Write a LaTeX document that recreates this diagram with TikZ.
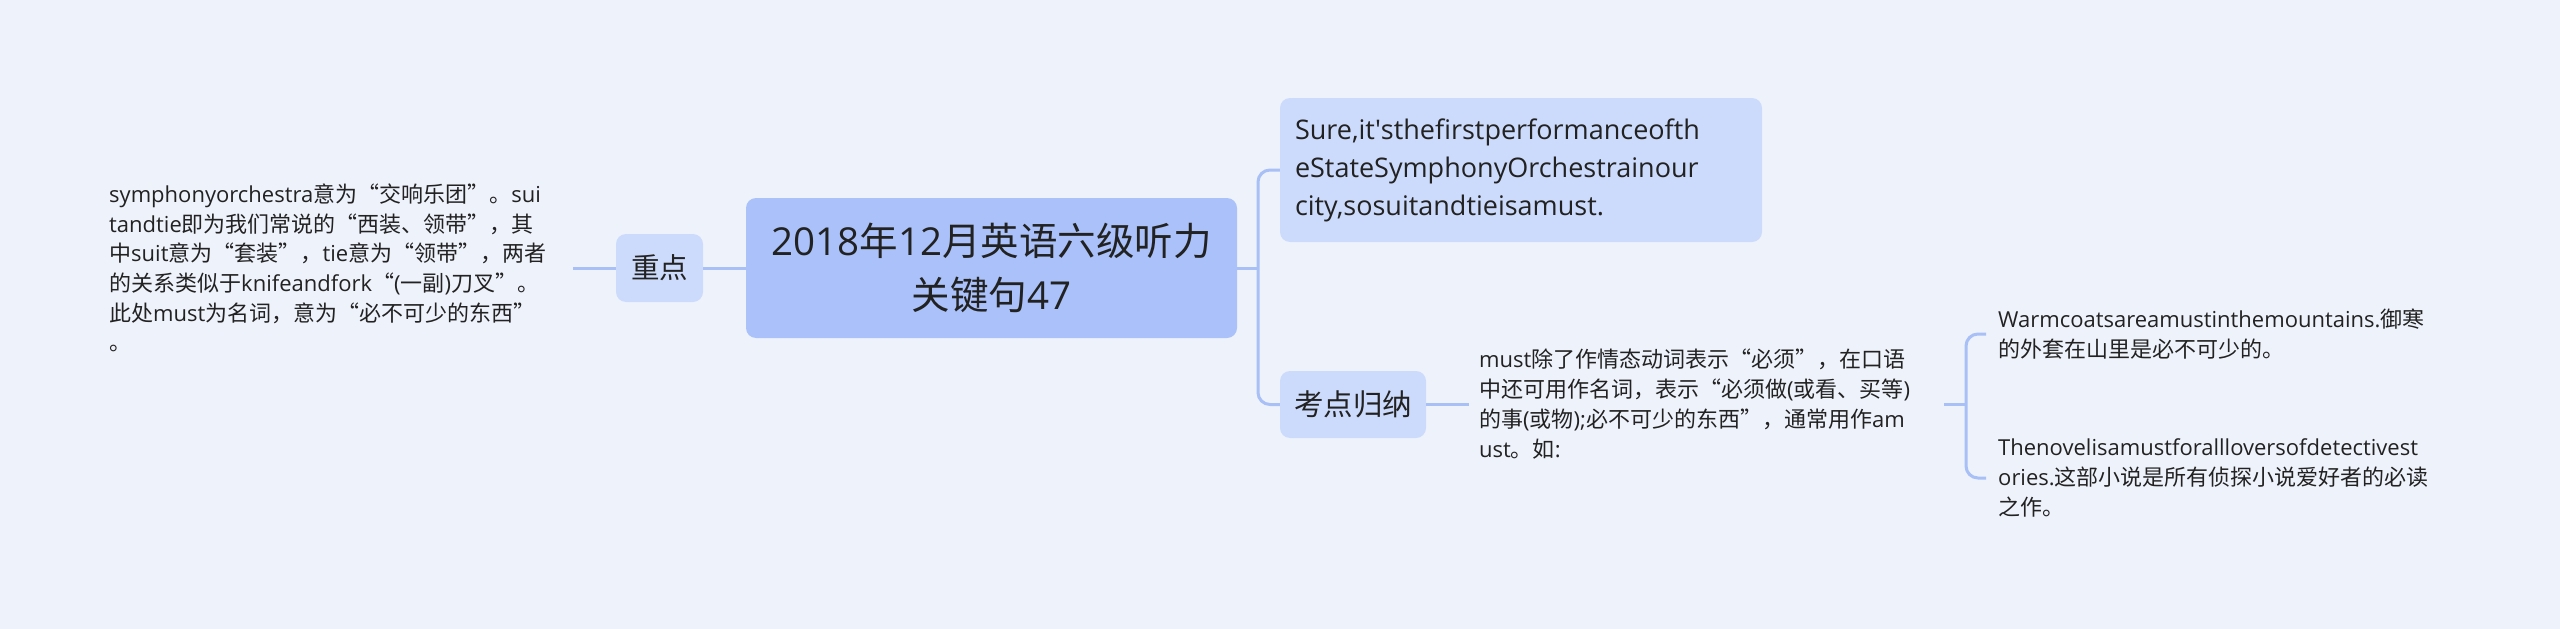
\documentclass[tikz,border=0pt]{standalone}
\usepackage{fontspec}
\setmainfont{Open Sans}
\newfontfamily\latfont{Open Sans}
\newfontfamily\cjkfont{Noto Sans CJK SC}[RawFeature=+fwid]
\XeTeXinterchartokenstate=1
\newXeTeXintercharclass\cjkcls
\newcount\mycnt
\def\setcls#1#2{\mycnt=#1\relax\loop\XeTeXcharclass\mycnt=\cjkcls\relax\ifnum\mycnt<#2\relax\advance\mycnt by 1\relax\repeat}
\setcls{"4E00}{"9FFF}
\setcls{"3000}{"303F}
\setcls{"FF00}{"FFEF}
\setcls{"201C}{"201D}
\XeTeXinterchartoks 0 \cjkcls = {\cjkfont}
\XeTeXinterchartoks 4095 \cjkcls = {\cjkfont}
\XeTeXinterchartoks \cjkcls 0 = {\latfont}
\XeTeXinterchartoks 4095 0 = {\latfont}
\newcommand\myfs[2]{\fontsize{#1pt}{#2pt}\selectfont}
\newcommand\apos{\XeTeXglyph\XeTeXcharglyph"27\relax}
\definecolor{bgc}{RGB}{238,242,251}
\definecolor{cmain}{RGB}{170,194,249}
\definecolor{clight}{RGB}{204,219,251}
\definecolor{cline}{RGB}{168,192,245}
\definecolor{txt}{RGB}{34,34,34}
\tikzset{
  topic/.style={rounded corners=10pt, inner sep=0pt, text=txt},
  plain/.style={inner ysep=0pt, align=left, text=txt},
  conn/.style={draw=cline, line width=3pt},
}
\begin{document}
\begin{tikzpicture}[x=1pt,y=-1pt]
\fill[bgc] (0,0) rectangle (2560,629);
\useasboundingbox (0,0) rectangle (2560,629);

\node[topic, fill=cmain, minimum width=491pt, minimum height=140pt, align=center, font=\myfs{38.5}{54}] (root) at (991.5,268) {2018年12月英语六级听力\\关键句47};

\node[topic, fill=clight, minimum width=87pt, minimum height=68pt, font=\myfs{28.5}{34}] (zd) at (659.5,268) {重点};

\node[plain, text width=450pt, inner xsep=14pt, anchor=west, font=\myfs{22}{29.6}] (zdt) at (95,268) {symphonyorchestra意为“交响乐团”。sui\\tandtie即为我们常说的“西装、领带”，其\\中suit意为“套装”，tie意为“领带”，两者\\的关系类似于knifeandfork“(一副)刀叉”。\\此处must为名词，意为“必不可少的东西”\\。};

\node[topic, fill=clight, minimum width=482pt, minimum height=144pt, text width=452pt, align=left, font=\myfs{27}{38}] (q) at (1521,170) {Sure,it\apos sthefirstperformanceofth\\eStateSymphonyOrchestrainour\\city,sosuitandtieisamust.};

\node[topic, fill=clight, minimum width=146pt, minimum height=67pt, font=\myfs{29.5}{34}] (kd) at (1353,404.5) {考点归纳};

\node[plain, text width=455pt, inner xsep=10pt, anchor=west, font=\myfs{22}{30}] (kdt) at (1469,404.5) {must除了作情态动词表示“必须”，在口语\\中还可用作名词，表示“必须做(或看、买等)\\的事(或物);必不可少的东西”，通常用作am\\ust。如:};

\node[plain, text width=450pt, inner xsep=12pt, anchor=west, font=\myfs{22}{30}] (l1) at (1986,334) {Warmcoatsareamustinthemountains.御寒\\的外套在山里是必不可少的。};

\node[plain, text width=450pt, inner xsep=12pt, anchor=west, font=\myfs{22}{30}] (l2) at (1986,478) {Thenovelisamustforallloversofdetectivest\\ories.这部小说是所有侦探小说爱好者的必读\\之作。};

\coordinate (b1) at (1258,268);
\coordinate (b2) at (1966,404.5);

\draw[conn] (zdt.east) -- (zd.west);
\draw[conn] (zd.east) -- (root.west);
\draw[conn] (root.east) -- (b1);
\draw[conn, rounded corners=12pt] (q.west) -| (b1) |- (kd.west);
\draw[conn] (kd.east) -- (kdt.west);
\draw[conn] (kdt.east) -- (b2);
\draw[conn, rounded corners=12pt] (l1.west) -| (b2) |- (l2.west);
\end{tikzpicture}
\end{document}
